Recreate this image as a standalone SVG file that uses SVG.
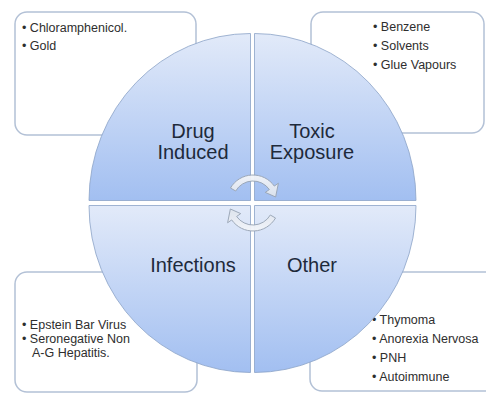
<svg xmlns="http://www.w3.org/2000/svg" width="486" height="394" viewBox="0 0 486 394">
<defs>
<linearGradient id="qg" x1="0" y1="0" x2="0" y2="1">
<stop offset="0" stop-color="#e2eaf9"/>
<stop offset="1" stop-color="#a2bff1"/>
</linearGradient>
<linearGradient id="ag" x1="0" y1="0" x2="0" y2="1">
<stop offset="0" stop-color="#f4f6fa"/>
<stop offset="1" stop-color="#dde3ec"/>
</linearGradient>
</defs>
<style>
.box{fill:#ffffff;stroke:#b3c1d6;stroke-width:1.5}
.quad{fill:url(#qg);stroke:#8aa2c6;stroke-width:0.8}
.lbl{font-family:"Liberation Sans",Arial,sans-serif;font-size:20px;fill:#1e2a3b;text-anchor:middle}
.item{font-family:"Liberation Sans",Arial,sans-serif;font-size:12.5px;fill:#2e2e2e}
.arrow{fill:url(#ag);stroke:#9aa6b6;stroke-width:1;opacity:0.95}
</style>
<rect width="486" height="394" fill="#ffffff"/>
<g id="box-drug">
<rect class="box" x="15" y="12" width="181" height="123" rx="12"/>
<text class="item" x="22" y="32">• Chloramphenicol.</text>
<text class="item" x="22" y="50">• Gold</text>
</g>
<g id="box-toxic">
<rect class="box" x="311" y="12" width="173" height="121" rx="12"/>
<text class="item" x="373" y="31">• Benzene</text>
<text class="item" x="373" y="50">• Solvents</text>
<text class="item" x="373" y="69">• Glue Vapours</text>
</g>
<g id="box-infections">
<rect class="box" x="15" y="272" width="182" height="120" rx="12"/>
<text class="item" x="22" y="329">• Epstein Bar Virus</text>
<text class="item" x="22" y="343">• Seronegative Non</text>
<text class="item" x="32" y="357">A-G Hepatitis.</text>
</g>
<g id="box-other">
<rect class="box" x="310" y="272" width="190" height="119" rx="12"/>
<text class="item" x="372" y="324">• Thymoma</text>
<text class="item" x="372" y="343">• Anorexia Nervosa</text>
<text class="item" x="372" y="362">• PNH</text>
<text class="item" x="372" y="381">• Autoimmune</text>
</g>
<g id="drug-induced">
<path class="quad" d="M250.5 200.5 L89 200.5 A161.5 167 0 0 1 250.5 33.5 Z"/>
<text class="lbl" x="193" y="138">Drug</text>
<text class="lbl" x="193" y="159">Induced</text>
</g>
<g id="toxic-exposure">
<path class="quad" d="M254.5 200.5 L254.5 33.5 A161.5 167 0 0 1 416 200.5 Z"/>
<text class="lbl" x="312" y="138">Toxic</text>
<text class="lbl" x="312" y="159">Exposure</text>
</g>
<g id="infections">
<path class="quad" d="M250.5 205.5 L250.5 372.5 A161.5 167 0 0 1 89 205.5 Z"/>
<text class="lbl" x="193" y="272">Infections</text>
</g>
<g id="other">
<path class="quad" d="M254.5 205.5 L416 205.5 A161.5 167 0 0 1 254.5 372.5 Z"/>
<text class="lbl" x="312" y="272">Other</text>
</g>
<g id="connectors">
<path class="arrow" d="M230.48 188 A26 26 0 0 1 274.30 186.09 L278.39 183.22 L275.65 197.01 L265.29 192.40 L269.38 189.53 A20 20 0 0 0 235.68 191 Z"/>
<path class="arrow" transform="rotate(180 253 203)" d="M230.48 188 A26 26 0 0 1 274.30 186.09 L278.39 183.22 L275.65 197.01 L265.29 192.40 L269.38 189.53 A20 20 0 0 0 235.68 191 Z"/>
</g>
</svg>
